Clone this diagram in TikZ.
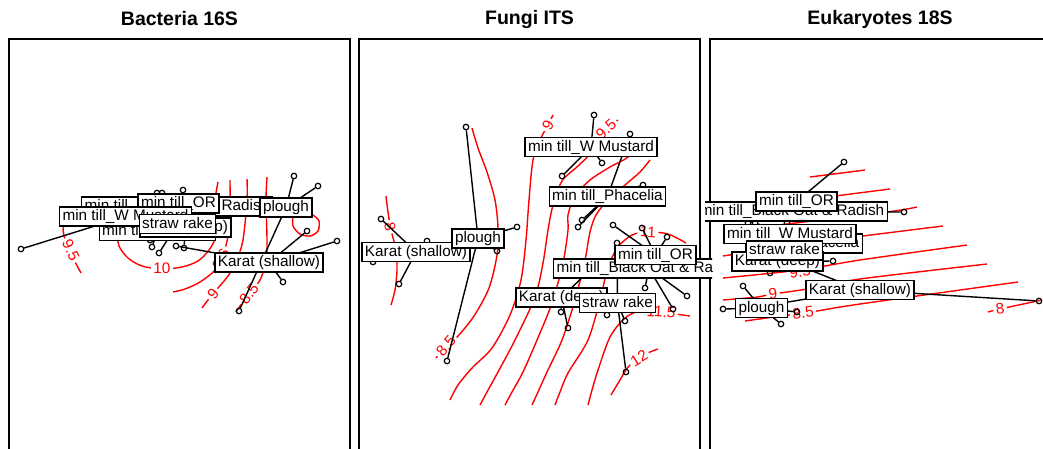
\documentclass[tikz,border=0pt]{standalone}
\usepackage{fontspec}
\setmainfont{Liberation Sans}
\begin{document}
\begin{tikzpicture}[x=1pt,y=-1pt,
  trt/.style={draw,fill=white,line width=1.4pt,inner xsep=3pt,inner ysep=0pt,
    minimum height=19pt,text height=11pt,text depth=3pt,
    font=\fontsize{15.3}{17}\selectfont},
  site/.style={circle,draw,line width=1.2pt,inner sep=0pt,minimum size=5.5pt},
  spider/.style={line width=1.4pt},
  cont/.style={red,line width=1.4pt},
  clab/.style={red,fill=white,inner xsep=2.5pt,inner ysep=0.5pt,
    font=\fontsize{15.3}{17}\selectfont},
  ttl/.style={font=\bfseries\fontsize{19.5}{22}\selectfont}]

\clip (0,0) rectangle (1043,448);

% Titles
\node[ttl] (tB) at (179.5,19) {Bacteria 16S};
\node[ttl] (tF) at (529.5,19) {Fungi ITS};
\node[ttl] (tE) at (880,19) {Eukaryotes 18S};

% Frames
\draw[line width=1.4pt] (9,39) rectangle (350,470);
\draw[line width=1.4pt] (359,39) rectangle (700,470);
\draw[line width=1.4pt] (710,39) rectangle (1051,470);

%%% Bacteria 16S
\begin{scope}
\clip (0,0) rectangle (355,448);
% contours
\draw[cont] plot[smooth] coordinates {(117,232) (119,246) (128,258) (142,266) (162,269) (182,267) (198,261) (209,250) (215,238) (216,215) (215,200) (218,182)};
\draw[cont] plot[smooth] coordinates {(66,222) (63,230) (67,245) (73,258) (81,273)};
\draw[cont] plot[smooth] coordinates {(230,180) (230,200) (229,230) (224,252) (215,270) (200,282) (185,289) (173,292)};
\draw[cont] plot[smooth] coordinates {(247,179) (247,200) (243,240) (236,262) (228,276) (218,288) (208,300) (202,308)};
\draw[cont] plot[smooth] coordinates {(267,177) (266,200) (267,240) (266,262) (260,280) (250,293) (242,303) (236,312)};
\draw[cont] plot[smooth] coordinates {(313,215) (319,221) (318,231) (310,236) (300,234) (293,226) (293,217)};
\node[clab] (bc1) at (162,268) {10};
\node[clab,rotate=-65] (bc2) at (71,250) {9.5};
\node[clab,rotate=-117] (bc3) at (221,259) {9.5};
\node[clab,rotate=52] (bc4) at (213,294) {9};
\node[clab,rotate=52] (bc5) at (249,294) {8.5};

% centroids
\coordinate (bWM) at (125.5,216.5);
\coordinate (bOR) at (178.5,203.5);
\coordinate (bBO) at (177,206.5);
\coordinate (bPh) at (157.5,231);
\coordinate (bKd) at (185.5,227.5);
\coordinate (bSr) at (177.5,224);
\coordinate (bPl) at (286,207.5);
\coordinate (bKs) at (269,262.5);

% sites
\node[site] (bWM1) at (21,249) {};
\node[site] (bOR1) at (183,190) {};
\node[site] (bOR2) at (162,193) {};
\node[site] (bBO1) at (157,193) {};
\node[site] (bPh1) at (152,247) {};
\node[site] (bPh2) at (150,240) {};
\node[site] (bKd1) at (184,248) {};
\node[site] (bSr1) at (159,253) {};
\node[site] (bPl1) at (294,176) {};
\node[site] (bPl2) at (318,186) {};
\node[site] (bPl3) at (239,311) {};
\node[site] (bKs1) at (176,246) {};
\node[site] (bKs2) at (307,231) {};
\node[site] (bKs3) at (337,241) {};
\node[site] (bKs4) at (283,282) {};

\draw[spider] (bWM) -- (bWM1);
\draw[spider] (bOR) -- (bOR1);
\draw[spider] (bOR) -- (bOR2);
\draw[spider] (bBO) -- (bBO1);
\draw[spider] (bPh) -- (bPh1);
\draw[spider] (bPh) -- (bPh2);
\draw[spider] (bKd) -- (bKd1);
\draw[spider] (bSr) -- (bSr1);
\draw[spider] (bPl) -- (bPl1);
\draw[spider] (bPl) -- (bPl2);
\draw[spider] (bPl) -- (bPl3);
\draw[spider] (bKs) -- (bKs1);
\draw[spider] (bKs) -- (bKs2);
\draw[spider] (bKs) -- (bKs3);
\draw[spider] (bKs) -- (bKs4);

% labels
\node[trt] (bBOl) at (bBO) {min till\_Black Oat \& Radish};
\node[trt] (bPhl) at (bPh) {min till\_Phacelia};
\node[trt] (bKdl) at (bKd) {Karat (deep)};
\node[trt] (bORl) at (bOR) {min till\_OR};
\node[trt] (bWMl) at (bWM) {min till\_W Mustard};
\node[trt] (bSrl) at (bSr) {straw rake};
\node[trt] (bPll) at (bPl) {plough};
\node[trt] (bKsl) at (bKs) {Karat (shallow)};
\end{scope}

%%% Fungi ITS
\begin{scope}
\clip (355,0) rectangle (712,448);
% contours
\draw[cont] plot[smooth] coordinates {(386,196) (388,212) (391,230) (396,250) (397,270) (395,290) (391,305)};
\draw[cont] plot[smooth] coordinates {(472,128) (478,148) (487,172) (495,200) (498,228) (497,255) (489,288) (474,316) (458,336) (446,347) (436,358)};
\draw[cont] plot[smooth] coordinates {(553,115) (548,125) (541,138) (533,160) (529,200) (526,240) (521,280) (510,315) (492,348) (472,368) (458,385) (450,400)};
\draw[cont] plot[smooth] coordinates {(618,120) (606,129) (597,140) (590,154) (578,166) (562,181) (553,205) (548,230) (543,263) (535,297) (515,340) (498,372) (487,392) (480,405)};
\draw[cont] plot[smooth] coordinates {(640,140) (628,157) (610,167) (590,180) (575,196) (568,215) (568,230) (563,263) (552,303) (537,340) (523,372) (512,392) (505,405)};
\draw[cont] plot[smooth] coordinates {(650,160) (640,172) (625,185) (608,200) (596,215) (590,232) (585,260) (575,300) (562,340) (547,372) (538,392) (532,405)};
\draw[cont] plot[smooth] coordinates {(686,243) (668,234) (648,232) (632,235) (618,247) (608,267) (600,300) (588,340) (568,373) (560,392) (555,405)};
\draw[cont] plot[smooth] coordinates {(690,316) (675,314) (660,312) (640,311) (625,318) (610,337) (598,370) (592,390) (588,405)};
\draw[cont] plot[smooth] coordinates {(611,395) (620,380) (628,367) (639,358) (650,352) (658,349)};
\node[clab,rotate=-80] (fc1) at (390,227) {8};
\node[clab,rotate=50] (fc2) at (446,346) {8.5};
\node[clab,rotate=62] (fc3) at (548,125) {9};
\node[clab,rotate=42] (fc4) at (606,129) {9.5};
\node[clab,rotate=-3] (fc5) at (648,232) {11};
\node[clab,rotate=-3] (fc6) at (661,312) {11.5};
\node[clab,rotate=32] (fc7) at (639,358) {12};

% centroids
\coordinate (fWM) at (591,147);
\coordinate (fPh) at (607.5,196.5);
\coordinate (fOR) at (655.5,255);
\coordinate (fBO) at (649,268.5);
\coordinate (fKd) at (561.5,297.5);
\coordinate (fSr) at (617.5,303);
\coordinate (fPl) at (478,238.5);
\coordinate (fKs) at (416,252);

% sites
\node[site] (fWM1) at (594,115) {};
\node[site] (fWM2) at (602,163) {};
\node[site] (fWM3) at (562,176) {};
\node[site] (fPh1) at (582,220) {};
\node[site] (fPh2) at (578,227) {};
\node[site] (fPh3) at (643,185) {};
\node[site] (fPh4) at (630,134) {};
\node[site] (fOR1) at (613,225) {};
\node[site] (fOR2) at (642,228) {};
\node[site] (fOR3) at (667,237) {};
\node[site] (fBO1) at (645,288) {};
\node[site] (fBO2) at (687,296) {};
\node[site] (fBO3) at (673,309) {};
\node[site] (fKd1) at (561,312) {};
\node[site] (fKd2) at (568,328) {};
\node[site] (fKd3) at (592,268) {};
\node[site] (fSr1) at (607,315) {};
\node[site] (fSr2) at (625,321) {};
\node[site] (fSr3) at (626,372) {};
\node[site] (fSr4) at (617,243) {};
\node[site] (fPl1) at (466,127) {};
\node[site] (fPl2) at (517,227) {};
\node[site] (fPl3) at (447,361) {};
\node[site] (fPl4) at (497,251) {};
\node[site] (fKs1) at (381,219) {};
\node[site] (fKs2) at (399,284) {};
\node[site] (fKs3) at (427,241) {};
\node[site] (fKs4) at (373,262) {};

\draw[spider] (fWM) -- (fWM1);
\draw[spider] (fWM) -- (fWM2);
\draw[spider] (fWM) -- (fWM3);
\draw[spider] (fPh) -- (fPh1);
\draw[spider] (fPh) -- (fPh2);
\draw[spider] (fPh) -- (fPh3);
\draw[spider] (fPh) -- (fPh4);
\draw[spider] (fOR) -- (fOR1);
\draw[spider] (fOR) -- (fOR2);
\draw[spider] (fOR) -- (fOR3);
\draw[spider] (fBO) -- (fBO1);
\draw[spider] (fBO) -- (fBO2);
\draw[spider] (fBO) -- (fBO3);
\draw[spider] (fKd) -- (fKd1);
\draw[spider] (fKd) -- (fKd2);
\draw[spider] (fKd) -- (fKd3);
\draw[spider] (fSr) -- (fSr1);
\draw[spider] (fSr) -- (fSr2);
\draw[spider] (fSr) -- (fSr3);
\draw[spider] (fSr) -- (fSr4);
\draw[spider] (fPl) -- (fPl1);
\draw[spider] (fPl) -- (fPl2);
\draw[spider] (fPl) -- (fPl3);
\draw[spider] (fPl) -- (fPl4);
\draw[spider] (fKs) -- (fKs1);
\draw[spider] (fKs) -- (fKs2);
\draw[spider] (fKs) -- (fKs3);
\draw[spider] (fKs) -- (fKs4);

% labels
\node[trt] (fKsl) at (fKs) {Karat (shallow)};
\node[trt] (fPll) at (fPl) {plough};
\node[trt] (fWMl) at (fWM) {min till\_W Mustard};
\node[trt] (fPhl) at (fPh) {min till\_Phacelia};
\node[trt] (fBOl) at (fBO) {min till\_Black Oat \& Radish};
\node[trt] (fORl) at (fOR) {min till\_OR};
\node[trt] (fKdl) at (fKd) {Karat (deep)};
\node[trt] (fSrl) at (fSr) {straw rake};
\end{scope}

%%% Eukaryotes 18S
\begin{scope}
\clip (705,0) rectangle (1043,448);
% contours
\draw[cont] (810,177) -- (865,170);
\draw[cont] plot[smooth] coordinates {(790,202) (843,195) (890,189)};
\draw[cont] plot[smooth] coordinates {(770,226) (887,212) (917,207)};
\draw[cont] plot[smooth] coordinates {(723,256) (790,246) (863,236) (943,226)};
\draw[cont] plot[smooth] coordinates {(723,278) (800,270) (860,260) (967,245)};
\draw[cont] plot[smooth] coordinates {(723,300) (758,297) (773,294) (807,289) (860,279) (987,264)};
\draw[cont] plot[smooth] coordinates {(745,321) (788,315) (803,313) (817,311) (860,304) (1018,282)};
\draw[cont] plot[smooth] coordinates {(988,312) (1000,309) (1042,300)};
\node[clab,rotate=8] (ec1) at (800,272) {9.5};
\node[clab,rotate=7] (ec2) at (773,294) {9};
\node[clab,rotate=7] (ec3) at (803,313) {8.5};
\node[clab,rotate=8] (ec4) at (1000,309) {8};

% centroids
\coordinate (eOR) at (796.5,201.5);
\coordinate (eBO) at (792,211.5);
\coordinate (eWM) at (790,234);
\coordinate (ePh) at (804,243.5);
\coordinate (eSr) at (784.5,250.5);
\coordinate (eKd) at (777.5,261.5);
\coordinate (eKs) at (860,290);
\coordinate (ePl) at (761.5,308);

% sites
\node[site] (eOR1) at (844,162) {};
\node[site] (eBO1) at (904,212) {};
\node[site] (eBO2) at (748,223) {};
\node[site] (eWM1) at (755,223) {};
\node[site] (eWM2) at (787,223) {};
\node[site] (eKd1) at (770,273) {};
\node[site] (eKd2) at (833,261) {};
\node[site] (eKs1) at (1039,301) {};
\node[site] (eKs2) at (770,305) {};
\node[site] (eKs3) at (790,262) {};
\node[site] (ePl1) at (743,286) {};
\node[site] (ePl2) at (723,309) {};
\node[site] (ePl3) at (797,312) {};
\node[site] (ePl4) at (781,324) {};

\draw[spider] (eOR) -- (eOR1);
\draw[spider] (eBO) -- (eBO1);
\draw[spider] (eBO) -- (eBO2);
\draw[spider] (eWM) -- (eWM1);
\draw[spider] (eWM) -- (eWM2);
\draw[spider] (eKd) -- (eKd1);
\draw[spider] (eKd) -- (eKd2);
\draw[spider] (eKs) -- (eKs1);
\draw[spider] (eKs) -- (eKs2);
\draw[spider] (eKs) -- (eKs3);
\draw[spider] (ePl) -- (ePl1);
\draw[spider] (ePl) -- (ePl2);
\draw[spider] (ePl) -- (ePl3);
\draw[spider] (ePl) -- (ePl4);

% labels
\node[trt] (ePhl) at (ePh) {min till\_Phacelia};
\node[trt] (eBOl) at (eBO) {min till\_Black Oat \& Radish};
\node[trt] (eORl) at (eOR) {min till\_OR};
\node[trt] (eWMl) at (eWM) {min till\_W Mustard};
\node[trt] (eKdl) at (eKd) {Karat (deep)};
\node[trt] (eSrl) at (eSr) {straw rake};
\node[trt] (eKsl) at (eKs) {Karat (shallow)};
\node[trt] (ePll) at (ePl) {plough};
\end{scope}
\end{tikzpicture}
\end{document}
